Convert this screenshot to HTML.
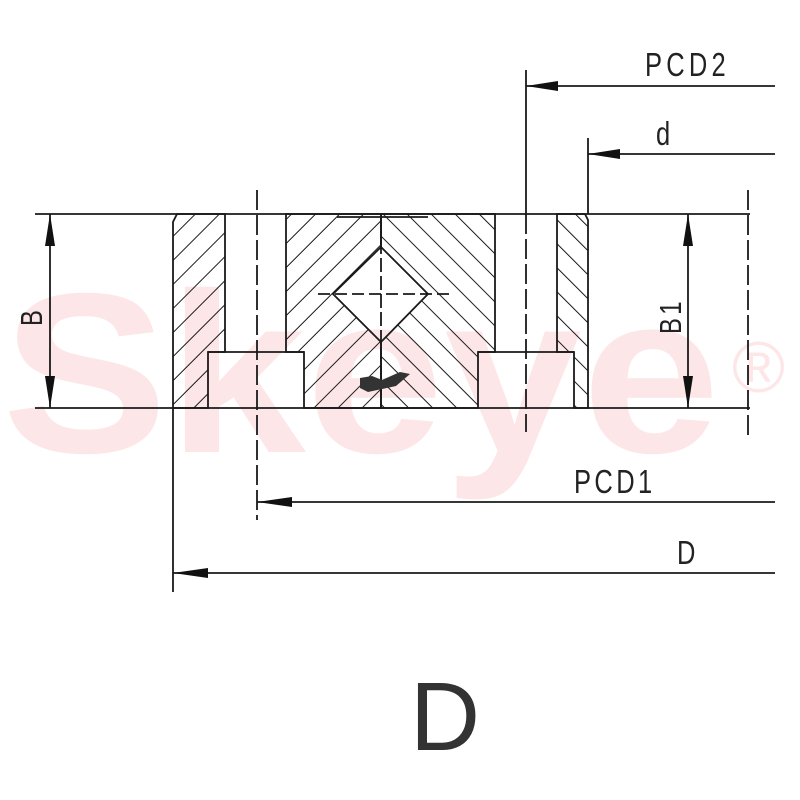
<!DOCTYPE html>
<html><head><meta charset="utf-8"><style>
html,body{margin:0;padding:0;background:#fff;}
svg{display:block;}
text{font-family:"Liberation Sans",sans-serif;}
</style></head><body>
<svg width="800" height="800" viewBox="0 0 800 800" xmlns="http://www.w3.org/2000/svg">
<defs>
<pattern id="hl" patternUnits="userSpaceOnUse" width="17" height="17" patternTransform="rotate(45)">
<line x1="0" y1="0" x2="0" y2="17" stroke="#1a1a1a" stroke-width="2"/>
</pattern>
<pattern id="hr" patternUnits="userSpaceOnUse" width="17" height="17" patternTransform="rotate(-45)">
<line x1="0" y1="0" x2="0" y2="17" stroke="#1a1a1a" stroke-width="2"/>
</pattern>
</defs>
<!-- watermark -->
<text x="2" y="452" font-size="228" font-weight="bold" fill="#fde6e7" textLength="718" lengthAdjust="spacingAndGlyphs">Skeye</text>
<text x="732" y="392" font-size="72" fill="#fde6e7">®</text>

<g stroke="#1a1a1a" stroke-width="1.8" fill="none">
<polygon points="177,214 225,214 225,352 208,352 208,408 173,408 173,222" fill="url(#hl)"/>
<polygon points="286,214 381,214 381,247 333,294 381,342 381,408 304,408 304,352 286,352" fill="url(#hl)"/>
<polygon points="381,214 495,214 495,352 478,352 478,408 381,408 381,342 428,294 381,247" fill="url(#hr)"/>
<polygon points="557,214 585,214 588,220 588,408 574,408 574,352 557,352" fill="url(#hr)"/>
<line x1="208" y1="352" x2="304" y2="352"/>
<line x1="478" y1="352" x2="574" y2="352"/>
<line x1="337" y1="217" x2="428" y2="217"/>
<line x1="35" y1="214" x2="750" y2="214"/>
<line x1="35" y1="408" x2="750" y2="408"/>
<line x1="318" y1="294" x2="450" y2="294" stroke-dasharray="12,5"/>
<line x1="381" y1="222" x2="381" y2="395" stroke-dasharray="14,4"/>
<line x1="257" y1="190" x2="257" y2="520" stroke-dasharray="20,5"/>
<line x1="526" y1="214" x2="526" y2="432" stroke-dasharray="20,5"/>
<line x1="748" y1="190" x2="748" y2="435" stroke-dasharray="20,5"/>
<line x1="526" y1="70" x2="526" y2="214"/>
<line x1="526" y1="86" x2="775" y2="86"/>
<line x1="588" y1="138" x2="588" y2="214"/>
<line x1="588" y1="154" x2="775" y2="154"/>
<line x1="257" y1="502" x2="775" y2="502"/>
<line x1="173" y1="408" x2="173" y2="592"/>
<line x1="173" y1="573" x2="775" y2="573"/>
<line x1="50" y1="214" x2="50" y2="408"/>
<line x1="688" y1="214" x2="688" y2="408"/>
</g>
<path d="M360,378 L372,376 L382,380 L400,372 L410,374 L396,386 L368,392 L360,388 Z" fill="#333"/>
<g fill="#111">
<polygon points="526,86 558,81 558,91"/>
<polygon points="588,154 620,149 620,159"/>
<polygon points="257,502 292,497 292,507"/>
<polygon points="173,573 208,568 208,578"/>
<polygon points="50,214 45,246 55,246"/>
<polygon points="50,408 45,376 55,376"/>
<polygon points="688,214 683,246 693,246"/>
<polygon points="688,408 683,376 693,376"/>
</g>
<g fill="#222">
<text transform="translate(645,76) scale(0.85,1.1)" font-size="30" letter-spacing="5">PCD2</text>
<text transform="translate(656,145) scale(0.85,1.1)" font-size="30">d</text>
<text transform="translate(574,493) scale(0.85,1.1)" font-size="30" letter-spacing="4">PCD1</text>
<text transform="translate(677,564) scale(0.85,1.1)" font-size="30">D</text>
<text transform="translate(42,326) rotate(-90) scale(0.85,1.1)" font-size="28">B</text>
<text transform="translate(681,334) rotate(-90) scale(0.85,1.1)" font-size="28" letter-spacing="4">B1</text>
<text x="410" y="750" font-size="97" fill="#333">D</text>
</g>
</svg>
</body></html>
